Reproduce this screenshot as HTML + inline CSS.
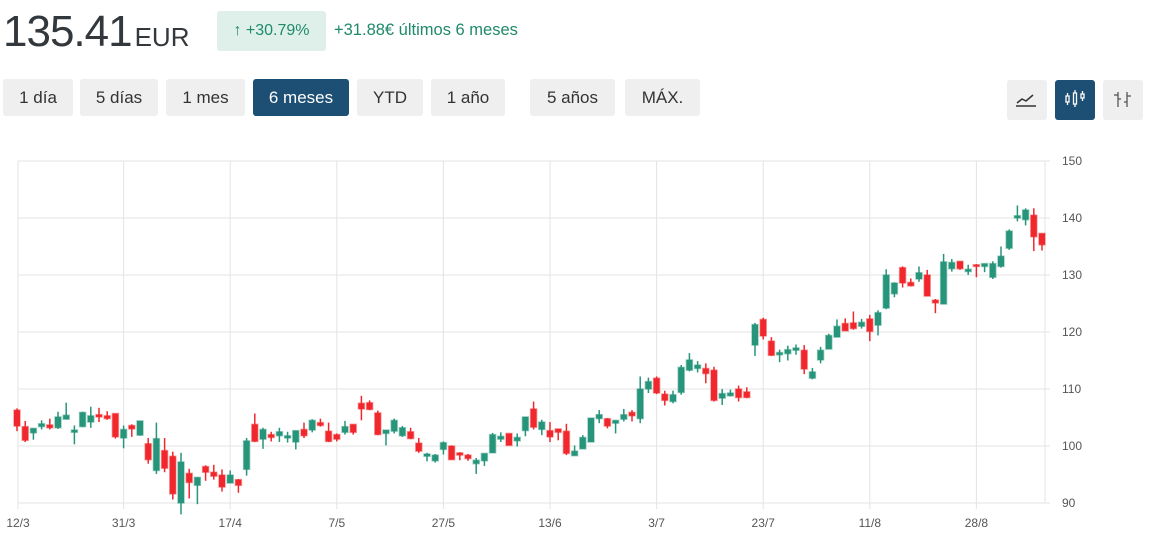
<!DOCTYPE html>
<html><head><meta charset="utf-8"><style>
body{margin:0;width:1149px;height:535px;background:#fff;font-family:"Liberation Sans",sans-serif;position:relative;overflow:hidden;color:#333}
.price{position:absolute;left:3px;top:7px;font-size:44px;color:#33383d;letter-spacing:-1px}
.price span{font-size:26px;letter-spacing:0;margin-left:3px}
.badge{position:absolute;left:217px;top:11px;width:109px;height:40px;background:#dff0eb;border-radius:3px;color:#1f8a6a;font-size:16px;line-height:40px;text-align:center}
.chg{position:absolute;left:334px;top:21px;color:#1f8a6a;font-size:16.5px}
.btn{position:absolute;top:79px;height:37px;background:#efefef;border-radius:3px;font-size:17px;line-height:37px;text-align:center;color:#333}
.btn.on{background:#1d4f74;color:#fff}
.ic{position:absolute;top:80px;width:40px;height:40px;background:#efefef;border-radius:3px}
.ic.on{background:#1d4f74}
</style></head><body>
<div class="price">135.41<span>EUR</span></div>
<div class="badge">↑ +30.79%</div>
<div class="chg">+31.88€ últimos 6 meses</div>
<div class="btn" style="left:3px;width:70px">1 día</div>
<div class="btn" style="left:80px;width:78px">5 días</div>
<div class="btn" style="left:166px;width:79px">1 mes</div>
<div class="btn on" style="left:253px;width:96px">6 meses</div>
<div class="btn" style="left:357px;width:66px">YTD</div>
<div class="btn" style="left:431px;width:74px">1 año</div>
<div class="btn" style="left:530px;width:85px">5 años</div>
<div class="btn" style="left:625px;width:75px">MÁX.</div>
<div class="ic" style="left:1007px"><svg width="40" height="40"><polyline points="10,23 15,19 19,21 26,15" fill="none" stroke="#333" stroke-width="1.5"/><line x1="9" y1="26" x2="29" y2="26" stroke="#333" stroke-width="1.5"/></svg></div>
<div class="ic on" style="left:1055px"><svg width="40" height="40"><g stroke="#fff" stroke-width="1.3" fill="none"><rect x="11" y="16" width="3" height="6"/><line x1="12.5" y1="13" x2="12.5" y2="16"/><line x1="12.5" y1="22" x2="12.5" y2="25"/><rect x="18.5" y="13" width="3" height="11"/><line x1="20" y1="10" x2="20" y2="13"/><line x1="20" y1="24" x2="20" y2="27"/><rect x="26" y="14" width="3" height="4"/><line x1="27.5" y1="11" x2="27.5" y2="14"/><line x1="27.5" y1="18" x2="27.5" y2="21"/></g></svg></div>
<div class="ic" style="left:1103px"><svg width="40" height="40"><g stroke="#555" stroke-width="1.3"><line x1="15" y1="12" x2="15" y2="27"/><line x1="11" y1="15" x2="15" y2="15"/><line x1="15" y1="19" x2="18" y2="19"/><line x1="24" y1="12" x2="24" y2="27"/><line x1="21" y1="22" x2="24" y2="22"/><line x1="24" y1="16" x2="28" y2="16"/></g></svg></div>
<svg id="chart" width="1149" height="535" style="position:absolute;left:0;top:0"></svg>
<script>
const opens=[106.3,103.4,102.3,103.4,103.7,103.2,104.7,102.4,103.4,104.2,105.5,105.3,105.7,101.4,103.6,101.9,100.4,95.7,99.2,98.2,90,95.2,93.1,96.4,95.4,94.9,93.5,94.1,95.9,103.8,101.2,102,101.8,101.4,100.7,102.9,102.8,104.1,102.6,102,102.4,103.8,107.5,107.6,105.8,102.2,102.6,101.8,102.5,100.5,98.2,97.4,99.4,100,98.8,98.4,96.9,97.4,98.8,101.2,102.2,100.9,102.7,106.5,102.9,102.7,103,102.6,98.3,99.5,100.7,104.8,104.8,104,104.7,105.9,104.8,110,111.9,109.1,107.8,109.4,113.3,113.6,113.6,113.3,108.4,108.8,110,109.5,117.7,122.2,118.4,116,116.2,116.8,116.8,111.9,115.1,117,119.1,121.5,121.6,121,122.3,121.2,124.2,126.7,131.3,128.7,129.3,130,125.6,124.9,131.1,132.4,130.6,131.8,131.5,129.6,131.5,134.7,140,139.7,140.5,137.3];
const highs=[106.6,104.4,103.1,104.5,104.8,106,107.6,103.6,106,106.9,106.7,106.1,105.7,103.6,103.8,104.4,101.4,104.1,101.4,99,98.8,96,94.5,96.6,96.7,95.9,95.7,94.2,101.4,105.7,103.2,102.5,103.2,102.5,102.7,104.1,104.7,104.8,104.1,102.2,104.4,103.8,108.8,108,106.2,102.8,104.8,103.5,103.2,101.4,98.8,98.6,100.8,100.1,98.9,98.6,97.9,98.7,102.3,102.4,102.2,102.2,105.1,107.8,104.6,104.2,103,103.9,100.1,101.9,104.9,106.3,104.9,104.5,106.5,106.3,112.2,112,112.2,109.7,109.7,114.2,116.3,114.9,114.5,113.9,110,109.9,110.6,110.3,121.6,122.5,119.1,116.9,117.6,117.8,117.7,113.7,117.4,119.7,122.2,122.4,123.6,122.3,123,123.8,131,128.7,131.5,129.4,131.5,130.9,125.8,133.7,132.8,132.4,131.8,131.9,132,132.4,135,138,142.2,141.7,141.7,137.3];
const lows=[102.6,100.7,101.1,102.9,102.9,103,104.7,100.3,103.3,103.2,104.2,104.6,101.3,99.6,101.6,101.8,96.9,95.1,95.4,90.6,88,90.8,89.8,93.9,94.1,92,93.5,91.8,94.8,100.7,99.5,100.8,100.7,100.6,99.4,101.4,102.4,103.4,100.7,100.8,102,102,104.5,106.3,101.9,100.1,102.2,101.6,101.2,98.8,97.3,97.1,98.5,97.6,97.5,97.4,95.1,96.5,98.8,100.7,100.1,99.9,101.7,102.9,101.9,100.7,101,98.4,98.3,99.5,100.7,104,103.1,102.2,104.3,104.3,104,109.3,109.1,107.1,107.5,109,113.1,112.9,111,107.8,107.2,108.7,107.8,108.4,115.8,118.7,115.8,114.7,115,116,112.6,111.7,114.5,117,119.1,120.2,120.4,120.6,118.4,119.4,124,126.1,127.8,128,128.8,126.3,123.3,124.9,130.6,130.9,130,129.6,130.5,129.3,131.3,134.4,139.4,138.7,134.2,134.3];
const closes=[103.5,101,103.1,103.9,103.2,105.1,105.4,102.8,105.9,105.3,105.1,104.8,101.6,102.9,103,104.4,97.6,101.3,96.1,91.6,97.2,93.6,94.5,95.4,94.7,92.8,94.9,93.1,100.9,100.8,102.9,101.5,102.5,101.8,102.7,101.8,104.5,103.6,100.8,101.2,103.4,102.4,106.5,106.4,102,102.8,104.5,103.2,101.3,99.1,98.6,98.4,100.6,97.6,98.4,97.8,97.5,98.7,102,101.7,100.1,101.5,105.1,103.3,104.2,101.6,102.4,98.7,99.1,101.5,104.9,105.5,103.5,104.5,105.5,105.3,110,111.3,109.3,108,109,113.8,115.1,114.2,112.7,108,109.2,109.3,108.5,108.5,121.3,119.3,115.9,116.4,116.9,117.2,113.5,113,116.8,119.4,121,120.2,120.6,121.7,120.1,123.4,130,128.6,128.6,128.1,130.4,126.3,125.1,132.3,132.2,131.1,131,131.5,132,132,133.3,137.7,140.4,141.4,136.7,135.3];
const yTicks=[90,100,110,120,130,140,150];
const xLabels=["12/3","31/3","17/4","7/5","27/5","13/6","3/7","23/7","11/8","28/8"];
const xLabelIdx=[0,13,26,39,52,65,78,91,104,117];

const svg=document.getElementById('chart');
const NS='http://www.w3.org/2000/svg';
const L=18,R=1045,T=161,B=503,ymin=90,ymax=150,step=8.2,x0=17;
const y=v=>T+(ymax-v)*(B-T)/(ymax-ymin);
const x=i=>x0+i*step;
function mk(t,a){const e=document.createElementNS(NS,t);for(const k in a)e.setAttribute(k,a[k]);svg.appendChild(e);return e;}
yTicks.forEach(v=>{
 const g=mk('line',{x1:L,x2:1050,y1:y(v),y2:y(v),stroke:'#e3e3e3','stroke-width':1});
 
 
 const t=mk('text',{x:1062,y:y(v)+4,'font-size':12,fill:'#555','font-family':'Liberation Sans, sans-serif'});
 t.textContent=v;
 
 
});
mk('line',{x1:R,x2:R,y1:T,y2:B,stroke:'#e3e3e3'});
xLabels.forEach((s,k)=>{
 const xx=x(xLabelIdx[k])+(k==0?1:0);
 const g=mk('line',{x1:xx,x2:xx,y1:T,y2:B+6,stroke:'#e3e3e3'});
 
 
 const t=mk('text',{x:xx,y:527,'font-size':12,fill:'#555','text-anchor':'middle','font-family':'Liberation Sans, sans-serif'});
 t.textContent=s;
 
 
});
opens.forEach((o,i)=>{
 const c=closes[i],up=c>=o,col=up?'#26957a':'#f0282d',cx=x(i);
 const w=mk('line',{x1:cx,x2:cx,y1:y(highs[i]),y2:y(lows[i]),stroke:col,'stroke-width':1.5});
 
 
 const top=y(Math.max(o,c)),h=Math.max(1.5,Math.abs(y(o)-y(c)));
 const r=mk('rect',{x:cx-3,y:top,width:6,height:h,fill:col,stroke:up?'rgba(38,149,122,0.45)':'rgba(240,40,45,0.45)','stroke-width':1.5});
 
 
});
</script>
</body></html>
